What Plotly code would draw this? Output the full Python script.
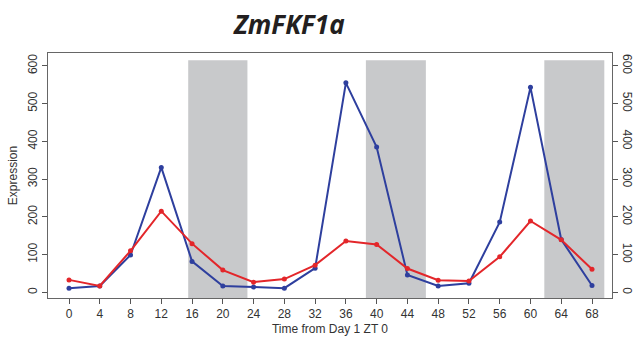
import plotly.graph_objects as go

time = [0, 4, 8, 12, 16, 20, 24, 28, 32, 36, 40, 44, 48, 52, 56, 60, 64, 68]
blue_vals = [11, 17, 99, 331, 82, 17, 14, 11, 64, 555, 385, 46, 17, 24, 186, 543, 140, 18]
red_vals = [33, 17, 110, 215, 129, 59, 27, 35, 72, 136, 127, 63, 32, 30, 94, 189, 139, 61]
dark_start = [15.5, 38.6, 61.8]
dark_end = [23.2, 46.4, 69.6]
x_ticks = list(range(0, 69, 4))
y_ticks = [0, 100, 200, 300, 400, 500, 600]

XR = [-2.73, 70.6]
YR = [-15, 634]

fig = go.Figure()

for s, e in zip(dark_start, dark_end):
    fig.add_shape(type="rect", xref="x", yref="y", x0=s, x1=e, y0=YR[0], y1=615,
                  fillcolor="#C8C9CB", line=dict(width=0), layer="below")

fig.add_trace(go.Scatter(x=time, y=blue_vals, mode="lines+markers",
                         line=dict(color="#2E3F9E", width=2),
                         marker=dict(color="#2E3F9E", size=5), showlegend=False))
fig.add_trace(go.Scatter(x=time, y=red_vals, mode="lines+markers",
                         line=dict(color="#E3262A", width=2),
                         marker=dict(color="#E3262A", size=5), showlegend=False))
fig.add_trace(go.Scatter(x=[time[0]], y=[red_vals[0]], yaxis="y2", mode="markers",
                         marker=dict(opacity=0), showlegend=False, hoverinfo="skip"))

axis_font = dict(family="Liberation Sans, Arial, sans-serif", size=12, color="#333333")

fig.update_layout(
    width=633, height=337,
    margin=dict(l=48, r=21, t=53, b=39, autoexpand=False),
    paper_bgcolor="white", plot_bgcolor="white",
    title=dict(text="<b><i>ZmFKF1a</i></b>", x=0.457, xanchor="center",
               y=1 - 25 / 337, yanchor="middle", automargin=False,
               font=dict(family="Open Sans, sans-serif", size=26, color="#231F20")),
    xaxis=dict(range=XR, tickvals=x_ticks, ticks="outside", ticklen=5, automargin=False,
               tickcolor="#555555", showgrid=False, zeroline=False,
               showline=True, linecolor="#666666", linewidth=1, mirror=True,
               tickfont=axis_font,
               title=dict(text="Time from Day 1 ZT 0", font=axis_font, standoff=4)),
    yaxis=dict(range=YR, tickvals=y_ticks, ticks="outside", ticklen=5, automargin=False,
               tickcolor="#555555", showgrid=False, zeroline=False,
               showline=True, linecolor="#666666", linewidth=1,
               tickangle=-90, tickfont=axis_font,
               title=dict(text="Expression", font=axis_font, standoff=6)),
    yaxis2=dict(range=YR, tickvals=y_ticks, ticks="outside", ticklen=5, automargin=False,
                tickcolor="#555555", showgrid=False, zeroline=False,
                showline=True, linecolor="#666666", linewidth=1,
                overlaying="y", side="right", tickangle=90, tickfont=axis_font),
)

fig.write_html("out.html")
